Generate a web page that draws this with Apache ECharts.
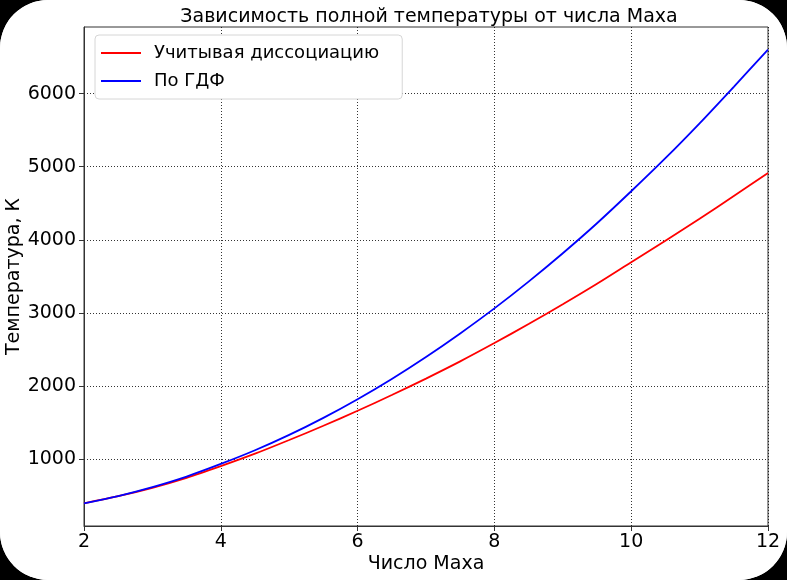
<!DOCTYPE html>
<html>
<head>
<meta charset="utf-8">
<script src="https://cdn.jsdelivr.net/npm/echarts@6/dist/echarts.min.js"></script>
<style>
html,body{margin:0;padding:0;background:#000;}
#wrap{width:787px;height:580px;border-radius:48px;overflow:hidden;background:#fff;}
#chart{width:787px;height:580px;}
</style>
</head>
<body>
<div id="wrap"><div id="chart"></div></div>
<script>
const machNumbers = [2, 2.5, 3, 3.5, 4, 4.5, 5, 5.5, 6, 6.5, 7, 7.5, 8, 8.5, 9, 9.5, 10, 10.5, 11, 11.5, 12];
const tempDissociation = [400, 497, 612, 748, 908, 1078, 1265, 1460, 1665, 1880, 2105, 2340, 2590, 2850, 3120, 3400, 3695, 3990, 4290, 4600, 4915];
const tempGDF = [400, 500, 622, 766, 938, 1125, 1335, 1568, 1823, 2100, 2400, 2722, 3064, 3430, 3818, 4228, 4665, 5117, 5594, 6093, 6600];
const xTicks = [2, 4, 6, 8, 10, 12];
const yTicks = [1000, 2000, 3000, 4000, 5000, 6000];
const seriesNames = ['Учитывая диссоциацию', 'По ГДФ'];

const font = 'DejaVu Sans';
const chart = echarts.init(document.getElementById('chart'), null, {renderer: 'canvas'});
const pair = (xs, ys) => xs.map((x, i) => [x, ys[i]]);
chart.setOption({
  animation: false,
  backgroundColor: '#fff',
  title: {
    text: 'Зависимость полной температуры от числа Маха',
    left: 424, top: 3, textAlign: 'center',
    textStyle: {fontFamily: font, fontSize: 19, fontWeight: 'normal', color: '#000'}
  },
  grid: {left: 84, right: 19, top: 27, bottom: 54, show: true, borderColor: '#333', borderWidth: 1,
         backgroundColor: 'transparent', containLabel: false, outerBoundsMode: 'none'},
  legend: {
    orient: 'vertical', left: 95, top: 35,
    backgroundColor: '#fff', borderColor: '#d6d6d6', borderWidth: 1, borderRadius: 4,
    padding: [9, 23, 9, 6], itemGap: 10, itemWidth: 40, itemHeight: 2,
    icon: 'rect',
    textStyle: {fontFamily: font, fontSize: 18, color: '#000', padding: [0, 0, 0, 8]},
    data: seriesNames
  },
  xAxis: {
    type: 'value', min: 2, max: 12, interval: 2,
    name: 'Число Маха', nameLocation: 'middle', nameGap: 29, nameMoveOverlap: false,
    nameTextStyle: {fontFamily: font, fontSize: 19, color: '#000'},
    axisLine: {show: true, lineStyle: {color: '#333', width: 1}},
    axisTick: {show: true, length: 5, lineStyle: {color: '#333'}},
    axisLabel: {fontFamily: font, fontSize: 19, color: '#000', margin: 7},
    splitLine: {show: true, lineStyle: {color: '#000', type: [1, 2], width: 0.8}}
  },
  yAxis: {
    type: 'value', min: 90, max: 6910,
    name: 'Температура, К', nameLocation: 'middle', nameGap: 60, nameMoveOverlap: false,
    nameTextStyle: {fontFamily: font, fontSize: 19, color: '#000'},
    axisLine: {show: true, lineStyle: {color: '#333', width: 1}},
    axisTick: {show: true, length: 5, lineStyle: {color: '#333'}, customValues: yTicks},
    axisLabel: {fontFamily: font, fontSize: 19, color: '#000', margin: 8, customValues: yTicks,
                formatter: v => String(Math.round(v))},
    splitLine: {show: true, lineStyle: {color: '#000', type: [1, 2], width: 0.8}}
  },
  series: [
    {name: seriesNames[0], type: 'line', data: pair(machNumbers, tempDissociation), showSymbol: false, smooth: 0.3,
     lineStyle: {color: '#ff0000', width: 1.8}, itemStyle: {color: '#ff0000'}},
    {name: seriesNames[1], type: 'line', data: pair(machNumbers, tempGDF), showSymbol: false, smooth: 0.3,
     lineStyle: {color: '#0000ff', width: 1.8}, itemStyle: {color: '#0000ff'}}
  ]
});
</script>
</body>
</html>
